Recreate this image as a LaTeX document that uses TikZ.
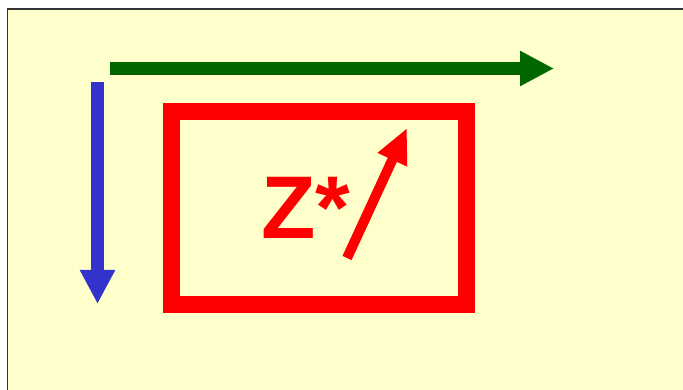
\documentclass[tikz,border=0pt]{standalone}
\usepackage{fontspec}
\setmainfont{Liberation Sans}
\usepackage{xcolor}
\usetikzlibrary{arrows.meta, positioning}

\definecolor{paper}{HTML}{FFFFCC}
\definecolor{axisgreen}{HTML}{006600}
\definecolor{axisblue}{HTML}{3333CC}
\definecolor{zred}{HTML}{FF0000}

\begin{document}
\begin{tikzpicture}[
    x=1pt, y=-1pt,
    axis/.style={line width=13pt, -{Triangle[length=34pt, width=33pt]}},
    frame/.style={draw=zred, line width=17pt, rectangle, inner sep=0pt, minimum width=295pt, minimum height=192.5pt},
    label/.style={text=zred, font=\fontsize{89}{89}\selectfont\bfseries, inner sep=0pt}
]
\useasboundingbox (0,0) rectangle (683,390);
\fill[white] (0,0) rectangle (683,390);
\draw[fill=paper, draw=black!80, line width=1.5pt] (7.5,9) rectangle (700,400);

% axes
\coordinate (xstart) at (110,68.5);
\coordinate (xend) at (554,68.5);
\coordinate (ystart) at (97.5,82);
\coordinate (yend) at (97.5,304);
\draw[axis, axisgreen] (xstart) -- (xend);
\draw[axis, axisblue] (ystart) -- (yend);

% region and vector
\node[frame] (region) at (318.5,208.25) {};
\node[label, anchor=base west] (zstar) at (261,239) {Z*};
\coordinate (vtail) at (347,258);
\coordinate (vtip) at (407,128);
\draw[zred, line width=10pt, -{Triangle[length=35pt, width=30pt]}] (vtail) -- (vtip);

\end{tikzpicture}
\end{document}
